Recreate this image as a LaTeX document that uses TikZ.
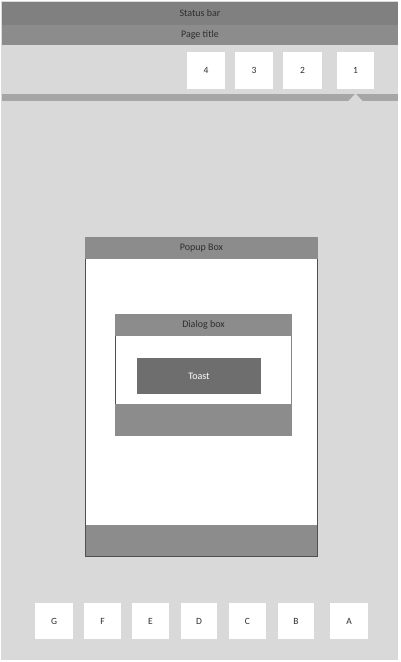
\documentclass[tikz,border=0pt]{standalone}
\usepackage{fontspec}
\setmainfont{Carlito}
\definecolor{bgg}{HTML}{D9D9D9}
\definecolor{barA}{HTML}{808080}
\definecolor{barB}{HTML}{8C8C8C}
\definecolor{barC}{HTML}{A6A6A6}
\definecolor{toastc}{HTML}{6E6E6E}
\definecolor{txt}{HTML}{2E2E2E}
\definecolor{edge}{HTML}{505050}
\begin{document}
\begin{tikzpicture}[x=1pt,y=-1pt,
  lbl/.style={font=\fontsize{10}{11}\selectfont, text=txt},
  tabbox/.style={fill=white, draw=none, inner sep=0pt, font=\fontsize{9.5}{10}\selectfont, text=txt},
]
\useasboundingbox (0,0) rectangle (400,662);
\fill[white] (0,0) rectangle (400,662);
\fill[bgg] (1,1) rectangle (398,660);
% status bar and page title
\fill[barA] (2,2) rectangle (398,25);
\node[lbl] (status) at (200,13.5) {Status bar};
\fill[barB] (2,25) rectangle (398,45);
\node[lbl] (title) at (200,35) {Page title};
% tabs
\node[tabbox, minimum width=38pt, minimum height=37pt] (t4) at (206,70.5) {4};
\node[tabbox, minimum width=38pt, minimum height=37pt] (t3) at (254,70.5) {3};
\node[tabbox, minimum width=39pt, minimum height=37pt] (t2) at (302.5,70.5) {2};
\node[tabbox, minimum width=37pt, minimum height=37pt] (t1) at (355.5,70.5) {1};
% tab indicator bar with notch
\fill[barC] (2,94) rectangle (398,101);
\fill[bgg] (348,101.5) -- (355.5,93.5) -- (363,101.5) -- cycle;
% popup box
\fill[white] (85,259) rectangle (318,525);
\fill[barB] (85,237) rectangle (318,259);
\node[lbl] (popup) at (201.5,248) {Popup Box};
\fill[barB] (85,525) rectangle (318,557);
\draw[edge, line width=0.8pt] (85.4,259) -- (85.4,556.6) -- (317.6,556.6) -- (317.6,259);
% dialog box
\fill[white] (115,336) rectangle (292,404);
\fill[barB] (115,314) rectangle (292,336);
\node[lbl] (dialog) at (203.5,325) {Dialog box};
\fill[barB] (115,404) rectangle (292,436);
\draw[edge, line width=0.6pt] (115.3,336) -- (115.3,404);
\draw[edge!70, line width=0.6pt] (291.7,336) -- (291.7,404);
% toast
\node[fill=toastc, text=white, minimum width=124pt, minimum height=36pt, inner sep=0pt, font=\fontsize{10}{11}\selectfont] (toast) at (199,376) {Toast};
% bottom buttons
\node[tabbox, minimum width=38pt, minimum height=36pt] (bG) at (54,621) {G};
\node[tabbox, minimum width=37pt, minimum height=36pt] (bF) at (102.5,621) {F};
\node[tabbox, minimum width=37pt, minimum height=36pt] (bE) at (150.5,621) {E};
\node[tabbox, minimum width=36pt, minimum height=36pt] (bD) at (199,621) {D};
\node[tabbox, minimum width=37pt, minimum height=36pt] (bC) at (247.5,621) {C};
\node[tabbox, minimum width=36pt, minimum height=36pt] (bB) at (296,621) {B};
\node[tabbox, minimum width=38pt, minimum height=36pt] (bA) at (349,621) {A};
\end{tikzpicture}
\end{document}
